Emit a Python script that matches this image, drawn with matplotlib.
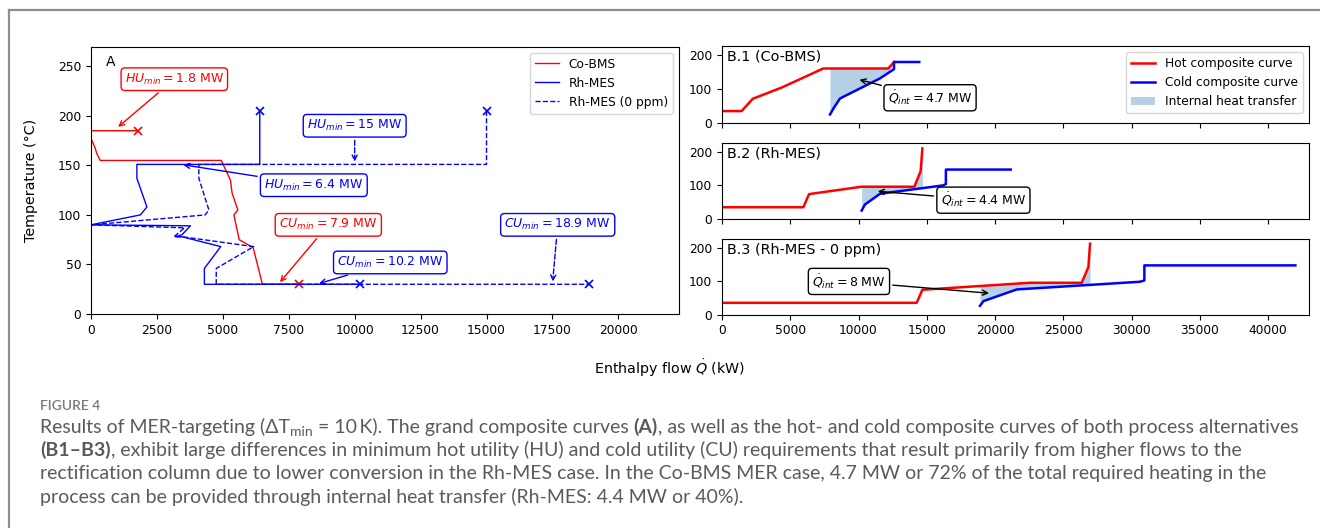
import numpy as np
import matplotlib
matplotlib.use("Agg")
import matplotlib.pyplot as plt
from matplotlib.lines import Line2D

# Grand composite curves (enthalpy flow in kW, temperature in °C)
co_bms_q = [1800, 0, 0, 150, 220, 350, 4940, 5290, 5350, 5570, 5420, 5620, 6150, 6500, 7900]
co_bms_t = [185, 185, 177, 168, 162, 155, 155, 135, 122, 105, 100, 75, 67, 30, 30]

rh_q = [6400, 6400, 1740, 1740, 2120, 1870, 0, 3770, 3450, 3200, 3450, 4920, 4300, 4300, 10200]
rh_t = [205, 151, 151, 137, 108, 100, 90, 89, 80, 78, 78, 68, 46, 30, 30]

rh0_q = [15000, 15000, 4090, 4090, 4470, 4330, 0, 3550, 3150, 3450, 6170, 4750, 4750, 18900]
rh0_t = [205, 151, 151, 137, 105, 100, 90, 87, 78, 78, 68, 46, 30, 30]

# Hot / cold composite curves per process alternative
b1_hot_q = [0, 1440, 2250, 4370, 7420, 12180, 12600]
b1_hot_t = [35, 35, 71, 104, 160, 160, 179]
b1_cold_q = [7910, 8200, 8645, 11575, 12600, 12600, 14450]
b1_cold_t = [25, 45, 72, 131, 158, 179, 179]

b2_hot_q = [0, 5960, 6375, 10230, 14090, 14550, 14680]
b2_hot_t = [35, 35, 74, 96, 96, 142, 210]
b2_cold_q = [10230, 10470, 11575, 16210, 16400, 16400, 21150]
b2_cold_t = [25, 43, 75, 100, 104, 147, 147]

b3_hot_q = [0, 14260, 14680, 22560, 26350, 26840, 26960]
b3_hot_t = [35, 35, 74, 95, 95, 142, 212]
b3_cold_q = [18900, 19150, 21590, 30620, 30940, 30940, 42000]
b3_cold_t = [26, 40, 75, 98, 102, 147, 147]

panel_titles = ["B.1 (Co-BMS)", "B.2 (Rh-MES)", "B.3 (Rh-MES - 0 ppm)"]
q_int = [4.7, 4.4, 8]

W, H = 1320, 528
fig = plt.figure(figsize=(W / 100, H / 100), dpi=100)

FS_TICK = 8.8
FS_NOTE = 9
FS_LABEL = 10.3


def fx(px):
    return px / W


def fy(py):
    return 1 - py / H


# outer frame of the figure panel
frame_c = "#8e8e8e"
fig.add_artist(Line2D([fx(9), fx(9)], [0, fy(10)], color=frame_c, lw=1.6))
fig.add_artist(Line2D([fx(9), 1], [fy(10), fy(10)], color=frame_c, lw=1.6))

# ---- panel A: grand composite curves
axA = fig.add_axes([fx(91), fy(314), fx(679) - fx(91), fy(46.5) - fy(314)])
for q, t, ls, name, col in [(co_bms_q, co_bms_t, "-", "Co-BMS", "red"),
                            (rh_q, rh_t, "-", "Rh-MES", "blue"),
                            (rh0_q, rh0_t, "--", "Rh-MES (0 ppm)", "blue")]:
    axA.plot(q, t, color=col, lw=1, ls=ls, label=name)
    # utility end points
    axA.plot([q[0], q[-1]], [t[0], t[-1]], ls="none", marker="x", ms=6,
             mew=1.2, color=col)
axA.set_xlim(0, 22300)
axA.set_ylim(0, 270)
axA.set_xticks(np.arange(0, 20001, 2500))
axA.set_yticks(np.arange(0, 251, 50))
axA.tick_params(labelsize=FS_TICK)
axA.set_ylabel("Temperature (°C)", fontsize=FS_LABEL)
axA.yaxis.set_label_coords(-0.09, 0.5)
axA.text(0.025, 0.97, "A", transform=axA.transAxes, fontsize=10, va="top")
axA.legend(loc="upper right", fontsize=FS_TICK)


def util_note(ax, txt, xy, xytext, color, dashed=False):
    ax.annotate(txt, xy=xy, xytext=xytext, color=color, fontsize=FS_NOTE,
                ha="center", va="center",
                bbox=dict(boxstyle="round,pad=0.3", fc="white", ec=color),
                arrowprops=dict(arrowstyle="->", color=color, lw=1,
                                ls="--" if dashed else "-"))


util_note(axA, r"$HU_{min} = 1.8$ MW", (950, 187), (3160, 237), "red")
util_note(axA, r"$HU_{min} = 15$ MW", (10000, 151), (10000, 190), "blue", dashed=True)
util_note(axA, r"$HU_{min} = 6.4$ MW", (3400, 151), (8450, 130), "blue")
util_note(axA, r"$CU_{min} = 7.9$ MW", (7100, 30), (9000, 90), "red")
util_note(axA, r"$CU_{min} = 10.2$ MW", (8550, 30), (11350, 52), "blue")
util_note(axA, r"$CU_{min} = 18.9$ MW", (17500, 30), (17700, 90), "blue", dashed=True)

# ---- panels B.1 - B.3: composite curves
b_rows = [(46, 123), (143, 219), (239, 314.5)]
hot = [(b1_hot_q, b1_hot_t), (b2_hot_q, b2_hot_t), (b3_hot_q, b3_hot_t)]
cold = [(b1_cold_q, b1_cold_t), (b2_cold_q, b2_cold_t), (b3_cold_q, b3_cold_t)]
note_text = [(15240, 74), (19150, 56), (9300, 99)]
note_tip = [(9870, 129), (11210, 83), (19760, 63)]

fill_c = "#a9c8e2"
axes_b = []
for i, (top, bot) in enumerate(b_rows):
    ax = fig.add_axes([fx(722), fy(bot), fx(1309) - fx(722), fy(top) - fy(bot)])
    axes_b.append(ax)
    hq, ht = hot[i]
    cq, ct = cold[i]
    ax.plot(hq, ht, color="red", lw=1.8, label="Hot composite curve")
    ax.plot(cq, ct, color="blue", lw=1.8, label="Cold composite curve")

    # overlap region between hot and cold curve
    grid = np.union1d(hq, cq)
    grid = grid[(grid >= cq[0]) & (grid <= hq[-1])]
    upper = np.interp(grid, hq, ht)
    lower = np.interp(grid, cq, ct)
    ax.fill_between(grid, lower, upper, where=upper >= lower, color=fill_c,
                    alpha=0.85, lw=0, label="Internal heat transfer")

    ax.set_xlim(0, 43000)
    ax.set_ylim(0, 226)
    ax.set_yticks([0, 100, 200])
    ax.set_xticks(np.arange(0, 40001, 5000))
    ax.tick_params(labelsize=FS_TICK)
    if i < 2:
        ax.tick_params(labelbottom=False)
    ax.text(0.008, 0.95, panel_titles[i], transform=ax.transAxes,
            fontsize=10.4, va="top")
    ax.annotate(r"$\dot{Q}_{int} = %s$ MW" % q_int[i], xy=note_tip[i],
                xytext=note_text[i], fontsize=FS_NOTE, ha="center", va="center",
                bbox=dict(boxstyle="round,pad=0.3", fc="white", ec="black"),
                arrowprops=dict(arrowstyle="->", color="black", lw=1))

axes_b[0].legend(loc="upper right", fontsize=FS_TICK)

fig.text(fx(670), fy(368), r"Enthalpy flow $\dot{Q}$ (kW)", ha="center",
         va="center", fontsize=FS_LABEL)

# ---- caption
cap_font = ["Lato", "DejaVu Sans"]
cap_color = "#5a5a5a"
cap_size = 14
renderer = fig.canvas.get_renderer()


def text_width(s, **props):
    probe = fig.text(0, 0, s + "|", **props)
    bar = fig.text(0, 0, "|", **props)
    w = probe.get_window_extent(renderer).width - bar.get_window_extent(renderer).width
    probe.remove()
    bar.remove()
    return w


def caption_line(x, y, runs):
    for s, kind in runs:
        props = dict(family=cap_font, color=cap_color, fontsize=cap_size)
        dy = 0
        if kind == "bold":
            props["weight"] = "bold"
        elif kind == "sub":
            props["fontsize"] = cap_size * 0.72
            dy = 3
        fig.text(fx(x), fy(y + dy), s, va="baseline", **props)
        x += text_width(s, **props)


fig.text(fx(40), fy(410), "FIGURE 4", family=cap_font, color="#7a7a7a",
         fontsize=10, weight="semibold", va="baseline")

caption_line(40, 432.5, [
    ("Results of MER-targeting (\u0394T", "normal"), ("min", "sub"),
    (" = 10\u2009K). The grand composite curves ", "normal"), ("(A)", "bold"),
    (", as well as the hot- and cold composite curves of both process alternatives", "normal"),
])
caption_line(40, 456, [
    ("(B1\u2013B3)", "bold"),
    (", exhibit large differences in minimum hot utility (HU) and cold utility (CU) "
     "requirements that result primarily from higher flows to the", "normal"),
])
caption_line(40, 479.5, [
    ("rectification column due to lower conversion in the Rh-MES case. In the Co-BMS "
     "MER case, 4.7 MW or 72% of the total required heating in the", "normal"),
])
caption_line(40, 503, [
    ("process can be provided through internal heat transfer (Rh-MES: 4.4 MW or 40%).", "normal"),
])

fig.savefig("out.png", dpi=100)
